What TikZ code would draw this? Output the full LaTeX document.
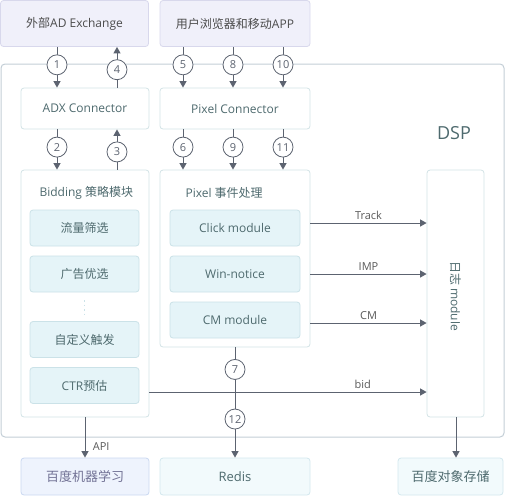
\documentclass[tikz,border=0pt]{standalone}
\usepackage{fontspec}
\setmainfont{Open Sans}
\newfontfamily\zh{Noto Sans CJK SC}
\usepackage{xcolor}
\usetikzlibrary{arrows.meta, positioning}

\definecolor{wire}{HTML}{5C6370}
\definecolor{txt}{HTML}{4E6A6E}
\definecolor{frameline}{HTML}{C3CED6}
\definecolor{boxline}{HTML}{D3E3E6}
\definecolor{modfill}{HTML}{E5F4F8}
\definecolor{modline}{HTML}{CBE2E8}
\definecolor{topfill}{HTML}{F0F0FA}
\definecolor{topline}{HTML}{D8D8EC}
\definecolor{mlfill}{HTML}{EEF3FD}
\definecolor{mlline}{HTML}{CAD8F1}
\definecolor{storefill}{HTML}{F2FAFC}
\definecolor{storeline}{HTML}{D3E8EE}

\begin{document}
\begin{tikzpicture}[
    x=1pt, y=-1pt,
    every node/.style={font=\fontsize{12}{14}\selectfont, text=txt},
    box/.style={draw=boxline, fill=white, rounded corners=3pt, line width=0.8pt},
    topbox/.style={draw=topline, fill=topfill, rounded corners=3pt, line width=0.8pt,
      text=black!70, font=\fontsize{12}{14}\selectfont},
    modbox/.style={draw=modline, fill=modfill, rounded corners=3pt, line width=0.8pt,
      minimum height=36pt},
    extbox/.style={draw=storeline, fill=storefill, rounded corners=3pt, line width=0.8pt,
      minimum height=37pt, font=\fontsize{13}{15}\selectfont},
    num/.style={circle, draw=wire, fill=white, line width=0.8pt, inner sep=0pt,
      minimum size=20pt, text=wire, font=\fontsize{11}{12}\selectfont},
    arr/.style={draw=wire, line width=1pt, -{Triangle[length=6.5pt,width=7pt]}},
    lbl/.style={text=black!65, font=\fontsize{11}{13}\selectfont}
  ]
  \useasboundingbox (0,0) rectangle (505,496);

  % DSP frame
  \draw[frameline, line width=1pt, rounded corners=4pt] (1,64) rectangle (504,437);
  \node[font=\fontsize{18}{22}\selectfont] (dsp) at (454,133) {DSP};

  % outside
  \node[topbox, minimum width=148pt, minimum height=46pt] (ext) at (74.5,23.5) {{\zh 外部}AD Exchange};
  \node[topbox, minimum width=150pt, minimum height=46pt] (user) at (235,23.5) {{\zh 用户浏览器和移动}APP};

  % connectors
  \node[box, minimum width=128pt, minimum height=41pt] (adx) at (85,108.5) {ADX Connector};
  \node[box, minimum width=150pt, minimum height=41pt] (pxc) at (235,108.5) {Pixel Connector};

  % bidding
  \node[box, minimum width=128pt, minimum height=247pt] (bid) at (85,293.5) {};
  \node[anchor=west] (bidt) at (36,193) {Bidding {\zh 策略模块}};
  \node[modbox, minimum width=109pt] (flow) at (84.5,228) {\zh 流量筛选};
  \node[modbox, minimum width=109pt] (adsel) at (84.5,274) {\zh 广告优选};
  \draw[modline, line width=1.5pt, dash pattern=on 1.5pt off 3pt] (84.5,300) -- (84.5,316);
  \node[modbox, minimum width=109pt] (trig) at (84.5,339.5) {\zh 自定义触发};
  \node[modbox, minimum width=109pt] (ctr) at (84.5,385.5) {CTR{\zh 预估}};

  % pixel events
  \node[box, minimum width=150pt, minimum height=177pt] (pev) at (235,258.5) {};
  \node[anchor=west] (pevt) at (182,193) {Pixel {\zh 事件处理}};
  \node[modbox, minimum width=130pt] (click) at (235,228) {Click module};
  \node[modbox, minimum width=130pt] (win) at (235,274) {Win-notice};
  \node[modbox, minimum width=130pt] (cm) at (235,320) {CM module};

  % log
  \node[box, minimum width=57pt, minimum height=247pt] (log) at (455.5,293.5) {};
  \node[rotate=-90] (logt) at (455.5,296) {{\zh 日志} module};

  % storage
  \node[extbox, draw=mlline, fill=mlfill, text=blue!25!black!55, minimum width=128pt] (ml) at (85,476.5) {\zh 百度机器学习};
  \node[extbox, minimum width=150pt] (redis) at (235,476.5) {Redis};
  \node[extbox, minimum width=105pt] (oss) at (450.5,476.5) {\zh 百度对象存储};

  % columns
  \coordinate (c1) at (57,0);
  \coordinate (c2) at (117,0);
  \coordinate (c3) at (183,0);
  \coordinate (c4) at (233,0);
  \coordinate (c5) at (283,0);
  \coordinate (c6) at (235,0);
  \coordinate (c7) at (456,0);

  \draw[arr] (c1 |- ext.south) -- node[num, pos=.44] (n1) {1} (c1 |- adx.north);
  \draw[arr] (c2 |- adx.north) -- node[num, pos=.44] (n4) {4} (c2 |- ext.south);
  \draw[arr] (c3 |- user.south) -- node[num, pos=.44] (n5) {5} (c3 |- pxc.north);
  \draw[arr] (c4 |- user.south) -- node[num, pos=.44] (n8) {8} (c4 |- pxc.north);
  \draw[arr] (c5 |- user.south) -- node[num, pos=.44] (n10) {10} (c5 |- pxc.north);

  \draw[arr] (c1 |- adx.south) -- node[num, pos=.44] (n2) {2} (c1 |- bid.north);
  \draw[arr] (c2 |- bid.north) -- node[num, pos=.44] (n3) {3} (c2 |- adx.south);
  \draw[arr] (c3 |- pxc.south) -- node[num, pos=.44] (n6) {6} (c3 |- pev.north);
  \draw[arr] (c4 |- pxc.south) -- node[num, pos=.44] (n9) {9} (c4 |- pev.north);
  \draw[arr] (c5 |- pxc.south) -- node[num, pos=.44] (n11) {11} (c5 |- pev.north);

  \draw[arr] (pev.east |- 0,223) -- node[lbl, above] (tr) {Track} (log.west |- 0,223);
  \draw[arr] (pev.east |- 0,274) -- node[lbl, above] (imp) {IMP} (log.west |- 0,274);
  \draw[arr] (pev.east |- 0,323) -- node[lbl, above] (cml) {CM} (log.west |- 0,323);
  \draw[arr] (bid.east |- 0,392) -- node[lbl, above, pos=.77] (bidl) {bid} (log.west |- 0,392);

  \draw[arr] (c6 |- pev.south) -- node[num, pos=.2] (n7) {7} node[num, pos=.65] (n12) {12} (c6 |- redis.north);
  \draw[arr] (bid.south) -- node[lbl, right, pos=.72, xshift=4pt] (api) {API} (ml.north);
  \draw[arr] (c7 |- log.south) -- (c7 |- oss.north);
\end{tikzpicture}
\end{document}
